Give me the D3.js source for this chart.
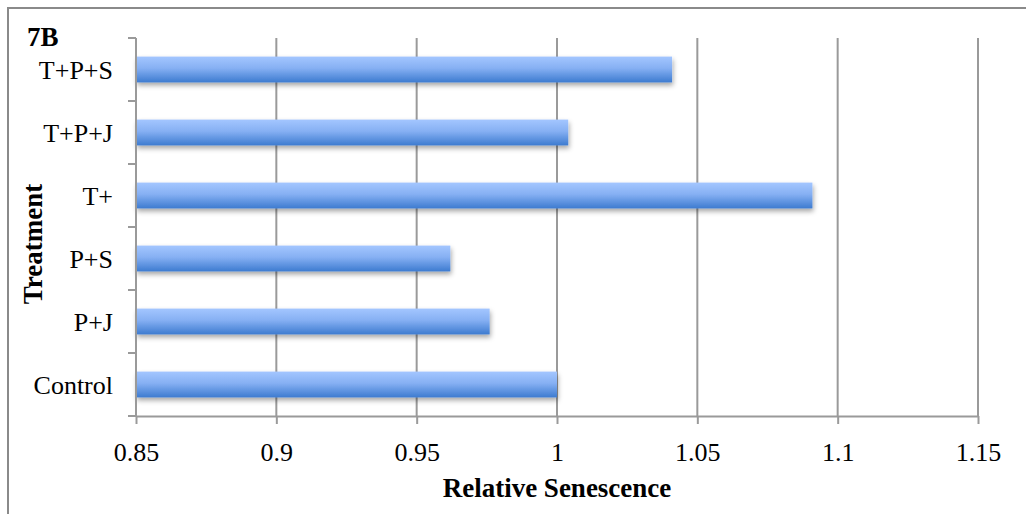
<!DOCTYPE html>
<html><head><meta charset="utf-8">
<script src="https://cdn.jsdelivr.net/npm/d3@7"></script>
<style>body{margin:0;background:#fff}svg{display:block}text{font-family:"Liberation Serif","Times New Roman",serif;fill:#000}</style>
</head><body>
<script>
const categories = ["T+P+S","T+P+J","T+","P+S","P+J","Control"];
const values = [1.041, 1.004, 1.091, 0.962, 0.976, 1.000];
const xTicks = [0.85, 0.9, 0.95, 1, 1.05, 1.1, 1.15];
const xTickLabels = ["0.85","0.9","0.95","1","1.05","1.1","1.15"];

(function(){
const W = 1026, H = 514;
const svg = d3.select("body").append("svg").attr("width", W).attr("height", H);
const defs = svg.append("defs");
const grad = defs.append("linearGradient").attr("id","barg").attr("x1",0).attr("y1",0).attr("x2",0).attr("y2",1);
grad.append("stop").attr("offset","0%").attr("stop-color","#a3c6ff");
grad.append("stop").attr("offset","45%").attr("stop-color","#86b0f3");
grad.append("stop").attr("offset","100%").attr("stop-color","#3d7bd0");
const filt = defs.append("filter").attr("id","shadow").attr("x","-5%").attr("y","-30%").attr("width","110%").attr("height","180%");
filt.append("feDropShadow").attr("dx",1).attr("dy",3).attr("stdDeviation",2.5).attr("flood-color","#000").attr("flood-opacity",0.35);

svg.append("rect").attr("x",8).attr("y",8).attr("width",W+10).attr("height",H+10)
  .attr("fill","none").attr("stroke","#8a8a8a").attr("stroke-width",2);

const mLeft = 136, mRight = 978, mTop = 38, mBottom = 416;
const x = d3.scaleLinear().domain([0.85, 1.15]).range([mLeft, mRight]);
const y = d3.scaleBand().domain(categories).range([mTop, mBottom]).paddingInner(0.59).paddingOuter(0.295);
const yEdge = d3.scaleBand().domain(categories).range([mTop, mBottom]);

svg.append("g").selectAll("line").data(xTicks.slice(1)).join("line")
  .attr("x1", d => x(d)).attr("x2", d => x(d)).attr("y1", mTop).attr("y2", mBottom)
  .attr("stroke","#9a9a9a").attr("stroke-width",2);

svg.append("g").selectAll("rect").data(categories).join("rect")
  .attr("x", x(0.85)).attr("y", d => y(d))
  .attr("width", (d,i) => x(values[i]) - x(0.85)).attr("height", y.bandwidth())
  .attr("fill","url(#barg)").attr("filter","url(#shadow)");

const xAxis = d3.axisBottom(x).tickValues(xTicks).tickFormat((d,i)=>xTickLabels[i]).tickSize(8).tickSizeOuter(0);
const gx = svg.append("g").attr("transform",`translate(0,${mBottom})`).call(xAxis);
gx.select(".domain").attr("stroke","#9a9a9a").attr("stroke-width",2);
gx.selectAll(".tick line").attr("stroke","#9a9a9a").attr("stroke-width",2);
gx.selectAll(".tick text").style("font-size","26px").attr("y",36).attr("dy","0.35em").attr("fill","#000");

svg.append("line").attr("x1",mLeft).attr("x2",mLeft).attr("y1",mTop).attr("y2",mBottom)
  .attr("stroke","#9a9a9a").attr("stroke-width",2);
const edges = categories.map(c => yEdge(c)).concat([mBottom]);
svg.append("g").selectAll("line").data(edges).join("line")
  .attr("x1", mLeft-8).attr("x2", mLeft).attr("y1", d=>d).attr("y2", d=>d)
  .attr("stroke","#9a9a9a").attr("stroke-width",2);
svg.append("g").selectAll("text").data(categories).join("text")
  .attr("x", 113).attr("y", d => yEdge(d) + yEdge.bandwidth()/2)
  .attr("text-anchor","end").attr("dy","0.35em")
  .style("font-size","26px").text(d=>d);

svg.append("text").attr("x", x(1)).attr("y", 488).attr("dy","0.35em").attr("text-anchor","middle")
  .style("font-size","27px").attr("font-weight","bold").text("Relative Senescence");
svg.append("text").attr("transform",`translate(33,244) rotate(-90)`).attr("dy","0.35em")
  .attr("text-anchor","middle").style("font-size","27px").attr("font-weight","bold").text("Treatment");
svg.append("text").attr("x", 27).attr("y", 46).style("font-size","27px").attr("font-weight","bold").text("7B");
})();
</script>
</body></html>
